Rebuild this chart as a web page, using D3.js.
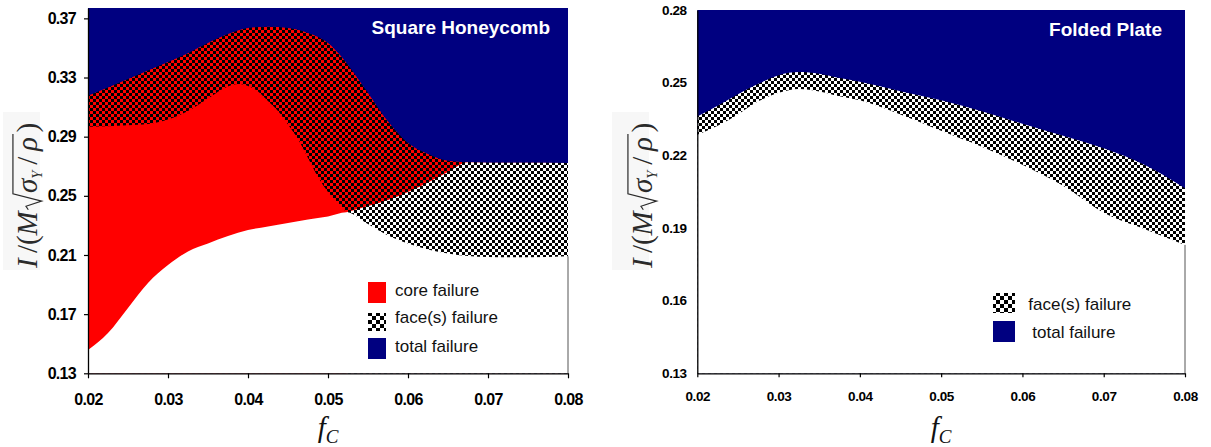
<!DOCTYPE html>
<html><head><meta charset="utf-8">
<script src="https://cdn.jsdelivr.net/npm/d3@7"></script>
<style>body{margin:0;background:#fff}svg{display:block}</style>
</head><body>
<svg id="chart" width="1211" height="447"></svg>
<script>
// ---------------- data ----------------
const fcTicks = [0.02, 0.03, 0.04, 0.05, 0.06, 0.07, 0.08];
const fcTickLabels = ["0.02", "0.03", "0.04", "0.05", "0.06", "0.07", "0.08"];
const sqYTicks = [0.13, 0.17, 0.21, 0.25, 0.29, 0.33, 0.37];
const sqYTickLabels = ["0.13", "0.17", "0.21", "0.25", "0.29", "0.33", "0.37"];
const fpYTicks = [0.13, 0.16, 0.19, 0.22, 0.25, 0.28];
const fpYTickLabels = ["0.13", "0.16", "0.19", "0.22", "0.25", "0.28"];

// Square Honeycomb: lower limit of total failure (top of face failure zone)
const sqTotalFc    = [0.02, 0.025, 0.03, 0.0325, 0.035, 0.0375, 0.04, 0.0425, 0.045, 0.0475, 0.05, 0.0515, 0.0525, 0.055, 0.0575, 0.06, 0.0625, 0.065, 0.0675, 0.07, 0.08];
const sqTotalLimit = [0.3177, 0.3290, 0.3405, 0.3464, 0.3533, 0.3594, 0.3635, 0.3643, 0.3635, 0.3601, 0.3533, 0.3452, 0.3385, 0.3195, 0.3002, 0.2857, 0.2783, 0.2737, 0.2727, 0.2724, 0.2722];
// top of core failure zone
const sqCoreFc    = [0.02, 0.025, 0.0275, 0.03, 0.0325, 0.035, 0.0375, 0.03875, 0.04, 0.04125, 0.0425, 0.04375, 0.045, 0.04625, 0.0475, 0.04875, 0.05, 0.05125, 0.0523];
const sqCoreLimit = [0.2967, 0.2977, 0.2986, 0.3016, 0.3073, 0.3158, 0.3239, 0.3256, 0.3243, 0.3205, 0.3141, 0.3073, 0.2982, 0.2884, 0.2756, 0.2627, 0.2526, 0.2451, 0.2389];
// top of face failure over the no-failure zone (right part)
const sqFaceFc    = [0.0523, 0.055, 0.0575, 0.06, 0.0625, 0.065, 0.0675, 0.07, 0.08];
const sqFaceLimit = [0.2389, 0.2431, 0.2472, 0.2526, 0.2590, 0.2661, 0.2727, 0.2724, 0.2722];
// top of the no-failure (white) zone
const sqSafeFc    = [0.02, 0.0225, 0.025, 0.0275, 0.03, 0.0325, 0.035, 0.0375, 0.04, 0.0425, 0.045, 0.0475, 0.05, 0.0523, 0.055, 0.0575, 0.06, 0.0625, 0.065, 0.0675, 0.07, 0.075, 0.08];
const sqSafeLimit = [0.1458, 0.1572, 0.1742, 0.1911, 0.2032, 0.2124, 0.2178, 0.2228, 0.2269, 0.2293, 0.2316, 0.2340, 0.2360, 0.2389, 0.2309, 0.2232, 0.2178, 0.2137, 0.2110, 0.2093, 0.2086, 0.2084, 0.2091];

// Folded Plate
const fpFc         = [0.02, 0.0225, 0.025, 0.0275, 0.03, 0.0325, 0.035, 0.0375, 0.04, 0.045, 0.05, 0.055, 0.06, 0.065, 0.07, 0.075, 0.08];
const fpTotalLimit = [0.2360, 0.2405, 0.2452, 0.2495, 0.2531, 0.2544, 0.2537, 0.2519, 0.2504, 0.2465, 0.2427, 0.2382, 0.2330, 0.2281, 0.2229, 0.2161, 0.2064];
const fpSafeLimit  = [0.2285, 0.2322, 0.2369, 0.2423, 0.2458, 0.2474, 0.2464, 0.2444, 0.2427, 0.2369, 0.2301, 0.2235, 0.2161, 0.2074, 0.1963, 0.1896, 0.1830];

const sqLegend = ["core failure", "face(s) failure", "total failure"];
const fpLegend = ["face(s) failure", "total failure"];

// ---------------- drawing ----------------
const NAVY = "#000080", RED = "#ff0000";
const SANS = "'Liberation Sans', Arial, sans-serif";
const SERIF = "'Liberation Serif', 'Times New Roman', serif";
const svg = d3.select("#chart");
const defs = svg.append("defs");

function checker(id, bg, cell) {
  const p = defs.append("pattern").attr("id", id).attr("patternUnits", "userSpaceOnUse")
    .attr("width", cell * 2).attr("height", cell * 2);
  p.append("rect").attr("width", cell * 2).attr("height", cell * 2).attr("fill", bg);
  p.append("rect").attr("width", cell).attr("height", cell).attr("fill", "#000");
  p.append("rect").attr("x", cell).attr("y", cell).attr("width", cell).attr("height", cell).attr("fill", "#000");
}
checker("chkRed", RED, 3);
checker("chkWhite", "#fff", 3);
checker("chkLegend", "#fff", 4);

function panel(cfg) {
  const x = d3.scaleLinear().domain([0.02, 0.08]).range([cfg.x0, cfg.x1]);
  const y = d3.scaleLinear().domain(cfg.yDomain).range([cfg.yB, cfg.yT]);
  const g = svg.append("g");
  g.append("rect").attr("x", cfg.x0).attr("y", cfg.yT).attr("width", cfg.x1 - cfg.x0)
    .attr("height", cfg.yB - cfg.yT).attr("fill", NAVY);
  const area = d3.area().x(d => x(d[0])).y0(y(cfg.yDomain[0])).y1(d => y(d[1])).curve(d3.curveMonotoneX);
  cfg.layers.forEach(L => {
    g.append("path").datum(d3.zip(L.fc, L.v)).attr("d", area).attr("fill", L.fill);
  });
  // right border in white zone
  const last = cfg.layers[cfg.layers.length - 1];
  g.append("line").attr("x1", cfg.x1).attr("x2", cfg.x1)
    .attr("y1", y(last.v[last.v.length - 1])).attr("y2", cfg.yB)
    .attr("stroke", "#555").attr("stroke-width", 1);

  const xa = g.append("g").attr("transform", `translate(0,${cfg.yB})`)
    .call(d3.axisBottom(x).tickValues(fcTicks).tickFormat((d, i) => fcTickLabels[i])
      .tickSize(cfg.xTick).tickSizeOuter(0).tickPadding(cfg.xPad));
  const ya = g.append("g").attr("transform", `translate(${cfg.x0},0)`)
    .call(d3.axisLeft(y).tickValues(cfg.yTicks).tickFormat((d, i) => cfg.yTickLabels[i])
      .tickSize(cfg.yTick).tickSizeOuter(0).tickPadding(cfg.yPad));
  [xa, ya].forEach(a => {
    a.select(".domain").attr("stroke", "#000").attr("stroke-width", 1.3);
    a.selectAll(".tick line").attr("stroke", "#000").attr("stroke-width", 1.2);
    a.selectAll(".tick text").attr("fill", "#000").style("font-family", SANS)
      .style("font-weight", "bold").style("font-size", cfg.tickFont + "px")
      .style("letter-spacing", cfg.tickLS + "px");
  });
  // title
  g.append("text").attr("x", cfg.titleX).attr("y", cfg.titleY).attr("text-anchor", "end")
    .attr("fill", "#fff").style("font-family", SANS).style("font-weight", "bold")
    .style("font-size", "19px").text(cfg.title);
  // x label f_C
  const xl = g.append("text").attr("x", (cfg.x0 + cfg.x1) / 2).attr("y", cfg.xLabelY)
    .attr("text-anchor", "middle").style("font-family", SERIF).attr("fill", "#111");
  xl.append("tspan").style("font-style", "italic").style("font-size", "29px").text("f");
  xl.append("tspan").attr("dy", 6).style("font-style", "italic").style("font-size", "19px").text("C");
  // legend
  cfg.legend.forEach(it => {
    g.append("rect").attr("x", it.bx).attr("y", it.by).attr("width", it.bw).attr("height", it.bh)
      .attr("fill", it.fill).attr("shape-rendering", "crispEdges");
    g.append("text").attr("x", it.tx).attr("y", it.ty).attr("fill", "#111")
      .style("font-family", SANS).style("font-size", "17px").text(it.label);
  });
  yLabel(cfg.labelBox, cfg.labelX, cfg.labelY, 29);
}

function yLabel(box, bx, by, fs) {
  svg.append("rect").attr("x", box[0]).attr("y", box[1]).attr("width", box[2]).attr("height", box[3])
    .attr("fill", "#f7f7f7");
  const G = svg.append("g").attr("transform", `translate(${bx},${by}) rotate(-90)`)
    .style("font-family", SERIF).attr("fill", "#2a2a2a");
  let u = 0;
  const put = (t, o = {}) => {
    const el = G.append("text").attr("x", u).attr("y", o.dy || 0)
      .style("font-size", (o.fs || fs) + "px").style("font-style", o.it ? "italic" : "normal").text(t);
    u += el.node().getComputedTextLength() + (o.gap || 0);
  };
  put("I", { it: true, gap: fs * 0.18 });
  put("/"); put("("); put("M", { it: true, gap: fs * 0.05 });
  const r0 = u, top = -fs * 0.83;
  u = r0 + fs * 0.58;
  put("\u03C3", { it: true });
  put("Y", { it: true, fs: fs * 0.5, dy: fs * 0.18, gap: fs * 0.2 });
  put("/", { gap: fs * 0.2 });
  put("\u03C1", { it: true, gap: fs * 0.1 });
  const r1 = u;
  G.append("path").attr("fill", "none").attr("stroke", "#2a2a2a").attr("stroke-width", 1.2)
    .attr("d", `M${r0},${-fs * 0.3}L${r0 + fs * 0.12},${-fs * 0.38}L${r0 + fs * 0.3},${fs * 0.16}L${r0 + fs * 0.55},${top}L${r1},${top}`);
  u += fs * 0.05;
  put(")");
}

panel({
  x0: 88, x1: 568, yT: 8, yB: 373.3, yDomain: [0.13, 0.377],
  yTicks: sqYTicks, yTickLabels: sqYTickLabels,
  xTick: 5, xPad: 15, yTick: 4, yPad: 8, tickFont: 16, tickLS: -0.7,
  title: "Square Honeycomb", titleX: 550, titleY: 34, xLabelY: 437,
  layers: [
    { fc: sqTotalFc, v: sqTotalLimit, fill: "url(#chkRed)" },
    { fc: sqFaceFc, v: sqFaceLimit, fill: "url(#chkWhite)" },
    { fc: sqCoreFc, v: sqCoreLimit, fill: RED },
    { fc: sqSafeFc, v: sqSafeLimit, fill: "#fff" }
  ],
  legend: [
    { bx: 368, by: 281.7, bw: 18, bh: 21, fill: RED, tx: 395, ty: 296, label: sqLegend[0] },
    { bx: 368, by: 313, bw: 18, bh: 18, fill: "url(#chkLegend)", tx: 395, ty: 323.3, label: sqLegend[1] },
    { bx: 368, by: 337.7, bw: 18, bh: 21, fill: NAVY, tx: 395, ty: 351.7, label: sqLegend[2] }
  ],
  labelBox: [3, 112, 37, 158], labelX: 37, labelY: 268
});

panel({
  x0: 697.3, x1: 1185, yT: 10, yB: 373.3, yDomain: [0.13, 0.28],
  yTicks: fpYTicks, yTickLabels: fpYTickLabels,
  xTick: 4, xPad: 14, yTick: 0, yPad: 10.6, tickFont: 13.5, tickLS: -0.4,
  title: "Folded Plate", titleX: 1162, titleY: 35.5, xLabelY: 437,
  layers: [
    { fc: fpFc, v: fpTotalLimit, fill: "url(#chkWhite)" },
    { fc: fpFc, v: fpSafeLimit, fill: "#fff" }
  ],
  legend: [
    { bx: 993.3, by: 293.3, bw: 22, bh: 20, fill: "url(#chkLegend)", tx: 1028.3, ty: 310, label: fpLegend[0] },
    { bx: 993.3, by: 321, bw: 22, bh: 21, fill: NAVY, tx: 1032.3, ty: 338.3, label: fpLegend[1] }
  ],
  labelBox: [612, 112, 37, 158], labelX: 652, labelY: 268
});
</script>
</body></html>
